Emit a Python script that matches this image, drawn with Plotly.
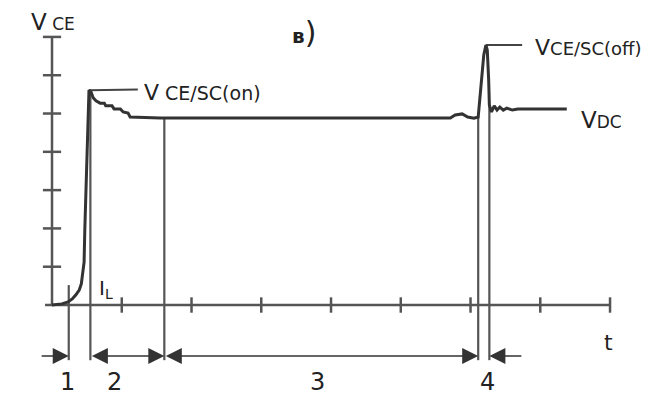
import plotly.graph_objects as go

# ---- data (time in axis-tick units, voltage in axis-tick units) ----
t_curve = [0.00, 0.14, 0.23, 0.29, 0.34, 0.39, 0.42, 0.44, 0.46, 0.47, 0.49, 0.50, 0.52, 0.53,
           0.56, 0.59, 0.63, 0.69, 0.75, 0.77, 0.86, 0.89, 0.98, 1.02, 1.09, 1.12, 1.55, 3.56,
           5.71, 5.78, 5.88, 5.96, 6.05, 6.11, 6.16, 6.19, 6.22, 6.24, 6.26, 6.27, 6.30, 6.34,
           6.38, 6.42, 6.47, 6.52, 6.60, 6.68, 7.38]
v_curve = [0.00, 0.03, 0.08, 0.16, 0.26, 0.39, 0.55, 0.78, 1.12, 1.96, 3.00, 4.05, 5.09, 5.61,
           5.56, 5.41, 5.33, 5.27, 5.27, 5.20, 5.20, 5.12, 5.12, 5.04, 5.01, 4.91, 4.88, 4.88,
           4.88, 4.96, 4.99, 4.91, 4.88, 4.91, 5.88, 6.53, 6.79, 6.66, 5.88, 5.22, 5.04, 5.20,
           5.09, 5.17, 5.09, 5.14, 5.09, 5.12, 5.12]

x_ticks = [1, 2, 3, 4, 5, 6, 7, 8]
y_ticks = [1, 2, 3, 4, 5, 6, 7]

phase_bounds = [0.24, 0.55, 1.61, 6.11, 6.27]
phase_tops = [0.52, 5.60, 4.88, 4.90, 5.20]
phase_names = ["1", "2", "3", "4"]
phase_label_t = [0.22, 0.90, 3.81, 6.25]

on_peak = (0.53, 5.61)
off_peak = (6.22, 6.79)

fig = go.Figure()

AX = "#555555"
# y axis
fig.add_trace(go.Scatter(x=[0, 0], y=[0, 7], mode="lines",
                         line=dict(color=AX, width=2.5), hoverinfo="skip"))
fig.add_trace(go.Scatter(x=[0] * len(y_ticks), y=y_ticks, mode="markers",
                         marker=dict(symbol="line-ew", size=13, line=dict(color=AX, width=2.5)),
                         hoverinfo="skip"))
# x axis
fig.add_trace(go.Scatter(x=[-0.1, 8.01], y=[0, 0], mode="lines",
                         line=dict(color=AX, width=2.5), hoverinfo="skip"))
fig.add_trace(go.Scatter(x=x_ticks, y=[0] * len(x_ticks), mode="markers",
                         marker=dict(symbol="line-ns", size=11, line=dict(color=AX, width=2.5)),
                         hoverinfo="skip"))

# phase boundary verticals
bottom = -1.44
for tb, top in zip(phase_bounds, phase_tops):
    fig.add_trace(go.Scatter(x=[tb, tb], y=[bottom, top], mode="lines",
                             line=dict(color="#555555", width=2.2), hoverinfo="skip"))

# leader lines
fig.add_trace(go.Scatter(x=[on_peak[0], 1.23], y=[on_peak[1], on_peak[1] + 0.02], mode="lines",
                         line=dict(color="#444444", width=2), hoverinfo="skip"))
fig.add_trace(go.Scatter(x=[off_peak[0], 6.74], y=[off_peak[1], off_peak[1]], mode="lines",
                         line=dict(color="#444444", width=2), hoverinfo="skip"))

# main curve
fig.add_trace(go.Scatter(x=t_curve, y=v_curve, mode="lines",
                         line=dict(color="#333333", width=3), hoverinfo="skip"))

ann = []
arrow_y = -1.33
def arrow(head, tail, both=False):
    ann.append(dict(x=head, y=arrow_y, ax=tail, ay=arrow_y, xref="x", yref="y",
                    axref="x", ayref="y", text="", showarrow=True,
                    arrowhead=2, startarrowhead=2, arrowsize=2.0, startarrowsize=2.0,
                    arrowwidth=1.6, arrowcolor="#333333",
                    arrowside="end+start" if both else "end",
                    standoff=0, startstandoff=0))

arrow(phase_bounds[0], -0.17)
arrow(phase_bounds[2], phase_bounds[1], both=True)
arrow(phase_bounds[3], phase_bounds[2], both=True)
arrow(phase_bounds[4], 6.75)

FONT = "DejaVu Sans"
TXT = "#222222"
def label(x, y, text, size, xanchor="left", yanchor="middle"):
    ann.append(dict(x=x, y=y, xref="x", yref="y", text=text, showarrow=False,
                    xanchor=xanchor, yanchor=yanchor,
                    font=dict(family=FONT, size=size, color=TXT)))

for name, tx in zip(phase_names, phase_label_t):
    label(tx, -2.01, name, 24, xanchor="center")
label(7.985, -0.99, "t", 22, xanchor="center")
label(-0.33, 7.40, "V<span style='font-size:17px'> CE</span>", 23)
label(1.29, 5.55, "V<span style='font-size:19px'> CE/SC(on)</span>", 22)
label(6.90, 6.72, "V<span style='font-size:18px'>CE/SC(off)</span>", 22)
label(7.55, 4.82, "V<span style='font-size:17px'>DC</span>", 23)
label(0.64, 0.42, "I<sub>L</sub>", 20)
label(3.41, 7.12, "<b>в</b><span style='font-size:30px'>)</span>", 20)

# the page body adds an 8px offset; ranges compensate so marks land where the reference has them
fig.update_layout(
    width=663, height=410,
    margin=dict(l=0, r=0, t=0, b=0),
    paper_bgcolor="white", plot_bgcolor="white",
    showlegend=False,
    xaxis=dict(range=[-0.631, 8.874], visible=False, fixedrange=True),
    yaxis=dict(range=[-2.950, 7.755], visible=False, fixedrange=True),
    annotations=ann,
)

fig.write_html("out.html")
